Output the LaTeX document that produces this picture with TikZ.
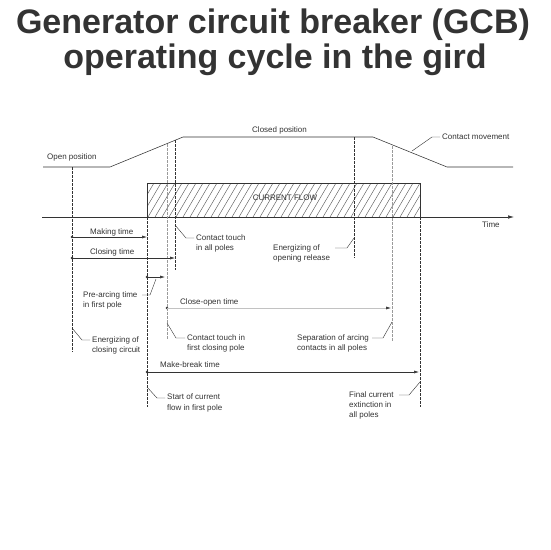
\documentclass[tikz,border=0pt]{standalone}
\usepackage{fontspec}
\setmainfont{Liberation Sans}
\usetikzlibrary{arrows.meta}
\definecolor{ink}{HTML}{333333}
\definecolor{faint}{HTML}{9A9A9A}
\definecolor{titlec}{HTML}{333333}
\begin{document}
\begin{tikzpicture}[x=1pt,y=-1pt,
  line/.style={draw=ink,line width=0.55pt},
  vdash/.style={draw=ink,line width=0.45pt,dash pattern=on 2.5pt off 1.5pt},
  vfaint/.style={draw=faint,line width=0.45pt,dash pattern=on 2.5pt off 1.5pt},
  dim/.style={draw=ink,line width=0.55pt,-{Latex[length=5pt,width=3pt]}},
  lead/.style={draw=ink,line width=0.4pt},
  lbl/.style={font=\fontsize{8}{10.3}\selectfont,text=ink,inner sep=0pt,align=left,anchor=north west},
  dot/.style={circle,fill=ink,inner sep=0pt,minimum size=2.6pt},
  ttl/.style={font=\fontsize{34}{40}\selectfont\bfseries,text=titlec,inner sep=0pt,anchor=base},
  hatch/.style={draw=ink!85,line width=0.4pt}
]
\useasboundingbox (0,0) rectangle (550,550);
\fill[white] (0,0) rectangle (550,550);

% title
\node[ttl] (t1) at (273,33) {Generator circuit breaker (GCB)};
\node[ttl] (t2) at (275,68) {operating cycle in the gird};

% contact movement
\coordinate (m1) at (43,167);
\coordinate (m2) at (110,167);
\coordinate (m3) at (183,137);
\coordinate (m4) at (373,137);
\coordinate (m5) at (447,167);
\coordinate (m6) at (513,167);
\draw[line] (m1) -- (m2) -- (m3) -- (m4) -- (m5) -- (m6);

% current flow
\coordinate (r1) at (147,183);
\coordinate (r2) at (420,217);
\begin{scope}
\clip (r1) rectangle (r2);
\foreach \x in {127,134,...,427} \draw[hatch] (\x,217) -- ++(20,-34);
\end{scope}
\draw[line] (r1) rectangle (r2);
\node[font=\fontsize{8}{10}\selectfont,text=ink,inner sep=1pt] (cf) at (285,198) {CURRENT FLOW};

% time axis
\coordinate (a1) at (42,217);
\coordinate (a2) at (514,217);
\draw[line,-{Latex[length=6pt,width=3.5pt]}] (a1) -- (a2);
\node[lbl,anchor=west] (time) at (482,225) {Time};

% vertical lines
\coordinate (v1a) at (72,167);  \coordinate (v1b) at (72,352);
\coordinate (v2a) at (147,217); \coordinate (v2b) at (147,407);
\coordinate (v3a) at (167,144); \coordinate (v3b) at (167,340);
\coordinate (v4a) at (175,140); \coordinate (v4b) at (175,270);
\coordinate (v5a) at (354,137); \coordinate (v5b) at (354,258);
\coordinate (v6a) at (392,146); \coordinate (v6b) at (392,342);
\coordinate (v7a) at (420,217); \coordinate (v7b) at (420,407);
\draw[vdash] (v1a) -- (v1b);
\draw[vdash] (v2a) -- (v2b);
\draw[vfaint] (v3a) -- (v3b);
\draw[vdash] (v4a) -- (v4b);
\draw[vdash] (v5a) -- (v5b);
\draw[vfaint] (v6a) -- (v6b);
\draw[vdash] (v7a) -- (v7b);

% dimension arrows
\node[dot] (d1) at (72,237) {};  \coordinate (e1) at (147,237);
\node[dot] (d2) at (72,258) {};  \coordinate (e2) at (175,258);
\node[dot] (d3) at (147,277) {}; \coordinate (e3) at (165,277);
\node[dot] (d4) at (167,308) {}; \coordinate (e4) at (391,308);
\node[dot] (d5) at (147,372) {}; \coordinate (e5) at (419,372);
\draw[dim] (d1.center) -- (e1);
\draw[dim] (d2.center) -- (e2);
\draw[dim] (d3.center) -- (e3);
\draw[draw=faint!60,line width=0.55pt,-{Latex[length=5pt,width=3pt,color=ink]}] (d4.center) -- (e4);
\draw[dim] (d5.center) -- (e5);

% labels
\node[lbl] (open) at (47,153) {Open position};
\node[lbl] (closed) at (252,126) {Closed position};
\node[lbl] (cm) at (442,134) {Contact movement};
\node[lbl] (mk) at (90,228) {Making time};
\node[lbl] (cl) at (90,248) {Closing time};
\node[lbl] (ctall) at (196,234) {Contact touch\\in all poles};
\node[lbl] (eor) at (273,244) {Energizing of\\opening release};
\node[lbl] (pre) at (83,291) {Pre-arcing time\\in first pole};
\node[lbl] (co) at (180,298) {Close-open time};
\node[lbl] (ecc) at (92,336) {Energizing of\\closing circuit};
\node[lbl] (ctfirst) at (187,334) {Contact touch in\\first closing pole};
\node[lbl] (sep) at (297,334) {Separation of arcing\\contacts in all poles};
\node[lbl] (mb) at (160,361) {Make-break time};
\node[lbl] (scf) at (167,394) {Start of current\\flow in first pole};
\node[lbl] (fce) at (349,391) {Final current\\extinction in\\all poles};

% leaders
\coordinate (l1a) at (412,151); \coordinate (l1b) at (432,137); \coordinate (l1c) at (440,137);
\draw[lead] (l1a) -- (l1b) -- (l1c);
\coordinate (l2a) at (175,225); \coordinate (l2b) at (186,238); \coordinate (l2c) at (194,238);
\draw[lead] (l2a) -- (l2b) -- (l2c);
\coordinate (l3a) at (354,238); \coordinate (l3b) at (347,248); \coordinate (l3c) at (335,248);
\draw[lead] (l3a) -- (l3b) -- (l3c);
\coordinate (l4a) at (156,279); \coordinate (l4b) at (150,295); \coordinate (l4c) at (142,295);
\draw[lead] (l4a) -- (l4b) -- (l4c);
\coordinate (l5a) at (72,328); \coordinate (l5b) at (82,340); \coordinate (l5c) at (90,340);
\draw[lead] (l5a) -- (l5b) -- (l5c);
\coordinate (l6a) at (167,323); \coordinate (l6b) at (176,338); \coordinate (l6c) at (185,338);
\draw[lead] (l6a) -- (l6b) -- (l6c);
\coordinate (l7a) at (392,322); \coordinate (l7b) at (383,338); \coordinate (l7c) at (372,338);
\draw[lead] (l7a) -- (l7b) -- (l7c);
\coordinate (l8a) at (147,387); \coordinate (l8b) at (157,398); \coordinate (l8c) at (165,398);
\draw[lead] (l8a) -- (l8b) -- (l8c);
\coordinate (l9a) at (420,382); \coordinate (l9b) at (409,395); \coordinate (l9c) at (399,395);
\draw[lead] (l9a) -- (l9b) -- (l9c);
\end{tikzpicture}
\end{document}
